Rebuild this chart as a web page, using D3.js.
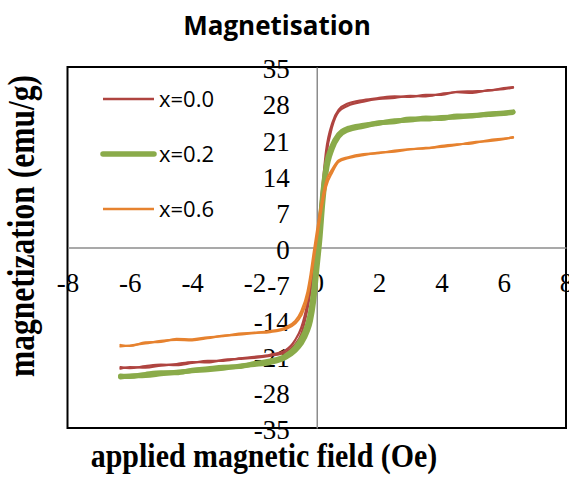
<!DOCTYPE html>
<html>
<head>
<meta charset="utf-8">
<script src="https://cdn.jsdelivr.net/npm/d3@7"></script>
<style>
  body { margin: 0; background: #fff; }
  svg { display: block; }
</style>
</head>
<body>
<div id="chart"></div>
<script>
// applied field (kOe) sample points, shared by every branch
const field = [-6.3, -6.0, -5.5, -5.0, -4.5, -4.0, -3.5, -3.0, -2.5, -2.0, -1.5, -1.0, -0.7, -0.5, -0.3, -0.2, -0.1, 0,
  0.1, 0.2, 0.3, 0.5, 0.7, 1.0, 1.5, 2.0, 2.5, 3.0, 3.5, 4.0, 4.5, 5.0, 5.5, 6.0, 6.3];

// x=0.0, two branches of the loop
const mag00a = [-23.5, -23.2, -23.3, -22.9, -22.6, -22.2, -22.3, -21.8, -21.6, -21.4, -21.0, -20.3, -18.8, -16.8, -12.0, -8.5, -4.5, 0,
  5.5, 11.5, 17.5, 23.5, 26.3, 27.5, 28.3, 28.8, 29.0, 29.4, 29.3, 29.8, 30.1, 30.0, 30.5, 30.7, 31.0];
const mag00b = [-23.2, -23.4, -23.0, -22.7, -22.8, -22.4, -22.0, -22.0, -21.5, -21.2, -20.8, -19.9, -18.0, -15.6, -10.8, -7.2, -3.0, 1.5,
  7.0, 13.0, 18.8, 24.2, 26.7, 27.9, 28.6, 29.0, 29.3, 29.2, 29.6, 29.6, 30.2, 30.3, 30.4, 30.9, 31.1];

// x=0.2
const mag02a = [-25.1, -24.9, -24.8, -24.5, -24.2, -23.9, -23.7, -23.4, -23.0, -22.7, -22.3, -21.3, -20.0, -18.6, -16.2, -14.2, -10.5, -4.5,
  1.5, 9.0, 14.5, 19.2, 21.5, 22.8, 23.5, 24.2, 24.4, 24.9, 24.9, 25.2, 25.3, 25.6, 25.8, 26.0, 26.2];
const mag02b = [-24.9, -25.0, -24.6, -24.3, -24.3, -23.8, -23.5, -23.2, -23.1, -22.5, -22.0, -21.0, -19.5, -17.8, -15.0, -12.6, -8.5, -2.0,
  4.0, 11.0, 15.8, 19.8, 21.9, 23.1, 23.7, 24.1, 24.6, 24.7, 25.1, 25.0, 25.5, 25.5, 25.9, 26.1, 26.3];

// x=0.6
const mag06a = [-19.2, -19.0, -18.6, -18.1, -17.9, -18.0, -17.6, -17.1, -16.9, -16.6, -16.4, -15.8, -14.8, -13.2, -9.8, -6.5, -2.5, 1.5,
  5.5, 9.0, 11.8, 14.6, 16.6, 17.3, 17.9, 18.4, 18.6, 19.0, 19.3, 19.5, 19.9, 20.4, 20.6, 21.0, 21.4];
const mag06b = [-18.9, -19.1, -18.4, -18.3, -17.7, -17.8, -17.4, -17.2, -16.7, -16.5, -16.2, -15.5, -14.3, -12.4, -8.6, -5.2, -1.0, 3.0,
  6.8, 10.2, 12.8, 15.2, 16.9, 17.5, 18.1, 18.3, 18.8, 19.1, 19.2, 19.7, 20.0, 20.2, 20.8, 21.1, 21.3];

const seriesNames = ["x=0.0", "x=0.2", "x=0.6"];
const seriesBranches = [[mag00a, mag00b], [mag02a, mag02b], [mag06a, mag06b]];
const seriesColors = ["#AF4440", "#8AAB4A", "#E6822F"];
const seriesWidths = [2.2, 5, 2.2];

const xTicks = [-8, -6, -4, -2, 0, 2, 4, 6, 8];
const yTicks = [-35, -28, -21, -14, -7, 0, 7, 14, 21, 28, 35];

const width = 569, height = 477;
const plot = {left: 67.5, right: 566, top: 67, bottom: 428};

const svg = d3.select("#chart")
  .append("svg")
  .attr("width", width)
  .attr("height", height);

svg.append("rect")
  .attr("width", width)
  .attr("height", height)
  .attr("fill", "#fff");

const x = d3.scaleLinear().domain([-8, 8]).range([plot.left, plot.right]);
const y = d3.scaleLinear().domain([-35, 35]).range([plot.bottom, plot.top]);

// plot area frame
svg.append("rect")
  .attr("x", plot.left)
  .attr("y", plot.top)
  .attr("width", plot.right - plot.left)
  .attr("height", plot.bottom - plot.top)
  .attr("fill", "none")
  .attr("stroke", "#000")
  .attr("stroke-width", 2);

// axes cross at the origin
const xAxis = svg.append("g")
  .attr("transform", `translate(0,${y(0)})`)
  .call(d3.axisBottom(x).tickValues(xTicks).tickFormat(d => String(d))
    .tickSize(0).tickSizeOuter(0).tickPadding(25));

const yAxis = svg.append("g")
  .attr("transform", `translate(${x(0)},0)`)
  .call(d3.axisLeft(y).tickValues(yTicks).tickFormat(d => String(d))
    .tickSize(0).tickSizeOuter(0).tickPadding(27));

[xAxis, yAxis].forEach(g => {
  g.select(".domain").attr("stroke", "#8c8c8c").attr("stroke-width", 1.5);
  g.selectAll("text")
    .attr("fill", "#000")
    .style("font-family", "'Liberation Serif', 'Times New Roman', serif")
    .style("font-size", "27px");
});
yAxis.selectAll("text").attr("dy", "0.4em");

// loops
const line = d3.line()
  .x((d, i) => x(field[i]))
  .y(d => y(d))
  .curve(d3.curveMonotoneX);

seriesBranches.forEach((branches, s) => {
  svg.append("g")
    .selectAll("path")
    .data(branches)
    .join("path")
    .attr("d", d => line(d))
    .attr("fill", "none")
    .attr("stroke", seriesColors[s])
    .attr("stroke-width", seriesWidths[s])
    .attr("stroke-linecap", "round")
    .attr("stroke-linejoin", "round");
});

// legend
const legend = svg.append("g");
seriesNames.forEach((name, i) => {
  const ly = 99 + i * 55;
  legend.append("line")
    .attr("x1", 103).attr("x2", 154)
    .attr("y1", ly).attr("y2", ly)
    .attr("stroke", seriesColors[i])
    .attr("stroke-width", seriesWidths[i] + 0.5)
    .attr("stroke-linecap", i === 1 ? "round" : "butt");
  legend.append("text")
    .attr("x", 159)
    .attr("y", ly + 8)
    .text(name)
    .style("font-family", "'Open Sans', sans-serif")
    .style("font-size", "22px")
    .attr("fill", "#000");
});

// titles
svg.append("text")
  .attr("x", 277)
  .attr("y", 35)
  .attr("text-anchor", "middle")
  .text("Magnetisation")
  .style("font-family", "'Open Sans', sans-serif")
  .style("font-weight", "bold")
  .style("font-size", "26px");

svg.append("text")
  .attr("transform", "translate(264,467) scale(0.88,1)")
  .attr("text-anchor", "middle")
  .text("applied magnetic field (Oe)")
  .style("font-family", "'Liberation Serif', 'Times New Roman', serif")
  .style("font-weight", "bold")
  .style("font-size", "34px");

svg.append("text")
  .attr("transform", "translate(34,226) rotate(-90) scale(0.83,1)")
  .attr("text-anchor", "middle")
  .text("magnetization (emu/g)")
  .style("font-family", "'Liberation Serif', 'Times New Roman', serif")
  .style("font-weight", "bold")
  .style("font-size", "38px");
</script>
</body>
</html>
